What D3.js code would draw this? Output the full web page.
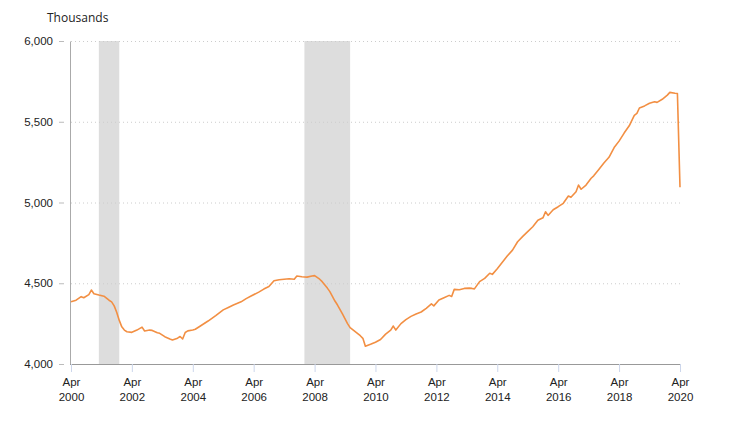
<!DOCTYPE html>
<html>
<head>
<meta charset="utf-8">
<script src="https://cdn.jsdelivr.net/npm/d3@7"></script>
<style>
  body { margin: 0; background: #fff; }
  svg { font-family: "Segoe UI", "Open Sans", "DejaVu Sans", sans-serif; }
</style>
</head>
<body>
<div id="chart"></div>
<script>
// Month offsets from Apr 2000 and the values (thousands)
var months = [0, 2, 4, 5, 7, 8, 9, 11, 13, 15, 16, 17, 18, 19, 20, 21, 22, 24, 26, 28, 29, 31, 32, 34, 35, 37, 39, 40,
  42, 43, 44, 45, 46, 48, 49, 51, 54, 57, 60, 62, 64, 67, 69, 71, 74, 76, 78, 80, 82, 84, 86, 88, 89, 91, 93, 95, 96,
  98, 99, 101, 102, 104, 105, 107, 109, 110, 112, 114, 115, 116, 118, 120, 122, 124, 126, 127, 128, 130, 132, 134,
  136, 138, 140, 142, 143, 145, 147, 149, 150, 151, 153, 155, 157, 158, 159, 161, 163, 165, 166, 168, 170, 172, 174,
  176, 178, 180, 182, 184, 186, 187, 188, 190, 192, 194, 196, 197, 199, 200, 201, 203, 205, 206, 208, 210, 212, 214,
  216, 218, 220, 222, 223, 224, 226, 228, 230, 231, 233, 235, 236, 238, 239, 240];
var values = [4385, 4395, 4417, 4410, 4430, 4458, 4435, 4427, 4420, 4395, 4385, 4360, 4320, 4270, 4230, 4210, 4200,
  4196, 4210, 4228, 4204, 4210, 4208, 4194, 4190, 4169, 4155, 4149, 4160, 4170, 4155, 4195, 4205, 4210, 4215, 4235,
  4266, 4300, 4335, 4350, 4365, 4385, 4405, 4421, 4445, 4464, 4480, 4516, 4522, 4525, 4528, 4525, 4545, 4540, 4538,
  4545, 4547, 4525, 4510, 4470, 4448, 4390, 4365, 4310, 4250, 4225, 4200, 4175, 4159, 4110, 4122, 4135, 4152, 4185,
  4210, 4235, 4210, 4250, 4275, 4295, 4310, 4322, 4345, 4372, 4360, 4396, 4410, 4425, 4418, 4462, 4460, 4468, 4470,
  4468, 4465, 4510, 4530, 4562, 4555, 4590, 4630, 4670, 4705, 4757, 4790, 4820, 4850, 4890, 4905, 4943, 4920, 4955,
  4974, 4995, 5040, 5032, 5067, 5108, 5082, 5108, 5150, 5165, 5205, 5245, 5280, 5340, 5380, 5430, 5475, 5540, 5552,
  5585, 5598, 5615, 5624, 5620, 5639, 5665, 5682, 5676, 5675, 5094];

// Recessions (start, end)
var recessions = [["2001-03-01", "2001-11-01"], ["2007-12-01", "2009-06-01"]];

var yTicks = [4000, 4500, 5000, 5500, 6000];
var xTickYears = [2000, 2002, 2004, 2006, 2008, 2010, 2012, 2014, 2016, 2018, 2020];

var start = new Date(2000, 3, 1);
var data = months.map(function(m, i) {
  return { date: d3.timeMonth.offset(start, m), value: values[i] };
});

var width = 729, height = 423;
var margin = {top: 41, right: 49, bottom: 59, left: 71};

var svg = d3.select("#chart").append("svg")
  .attr("width", width)
  .attr("height", height);

var x = d3.scaleTime()
  .domain([start, new Date(2020, 3, 1)])
  .range([margin.left, width - margin.right]);
var y = d3.scaleLinear()
  .domain([4000, 6000])
  .range([height - margin.bottom, margin.top]);

// Recession shading
svg.append("g").selectAll("rect")
  .data(recessions)
  .enter().append("rect")
  .attr("x", function(d) { return x(new Date(d[0])); })
  .attr("width", function(d) { return x(new Date(d[1])) - x(new Date(d[0])); })
  .attr("y", y(6000))
  .attr("height", y(4000) - y(6000))
  .attr("fill", "#dddddd");

// Grid lines
svg.append("g").selectAll("line")
  .data(yTicks.slice(1))
  .enter().append("line")
  .attr("x1", margin.left)
  .attr("x2", width - margin.right)
  .attr("y1", function(d) { return y(d) + 0.5; })
  .attr("y2", function(d) { return y(d) + 0.5; })
  .attr("stroke", "#cccccc")
  .attr("stroke-dasharray", "1,3");

// Y axis
var yAxis = svg.append("g")
  .attr("transform", "translate(" + (margin.left - 1) + ",0)")
  .call(d3.axisLeft(y).tickValues(yTicks).tickFormat(d3.format(",")).tickSize(0).tickPadding(17));
yAxis.select(".domain").attr("stroke", "#aaaaaa");
yAxis.selectAll(".tick").append("line")
  .attr("x1", -11).attr("x2", -6)
  .attr("stroke", "#bbbbbb");
yAxis.selectAll("text").attr("font-size", 11.5).attr("fill", "#222");

svg.append("text")
  .attr("x", 47)
  .attr("y", 22)
  .attr("font-size", 12)
  .attr("fill", "#222")
  .text("Thousands");

// X axis
var xAxis = svg.append("g")
  .attr("transform", "translate(0," + (height - margin.bottom) + ")")
  .call(d3.axisBottom(x)
    .tickValues(xTickYears.map(function(yr) { return new Date(yr, 3, 1); }))
    .tickSize(8)
    .tickFormat(""));
xAxis.select(".domain").attr("stroke", "#999999").attr("d", "M" + (margin.left - 1) + ",0.5H" + (width - margin.right));
xAxis.selectAll(".tick line").attr("stroke", "#ccd6eb");
xAxis.selectAll(".tick").each(function(d) {
  var t = d3.select(this).append("text")
    .attr("fill", "#222")
    .attr("font-size", 11.5)
    .attr("text-anchor", "middle");
  t.append("tspan").attr("x", 0).attr("y", 22).text("Apr");
  t.append("tspan").attr("x", 0).attr("y", 37).text(d.getFullYear());
});

// Line
var line = d3.line()
  .x(function(d) { return x(d.date); })
  .y(function(d) { return y(d.value); });

svg.append("path")
  .datum(data)
  .attr("fill", "none")
  .attr("stroke", "#f28f43")
  .attr("stroke-width", 1.6)
  .attr("stroke-linejoin", "round")
  .attr("d", line);
</script>
</body>
</html>
